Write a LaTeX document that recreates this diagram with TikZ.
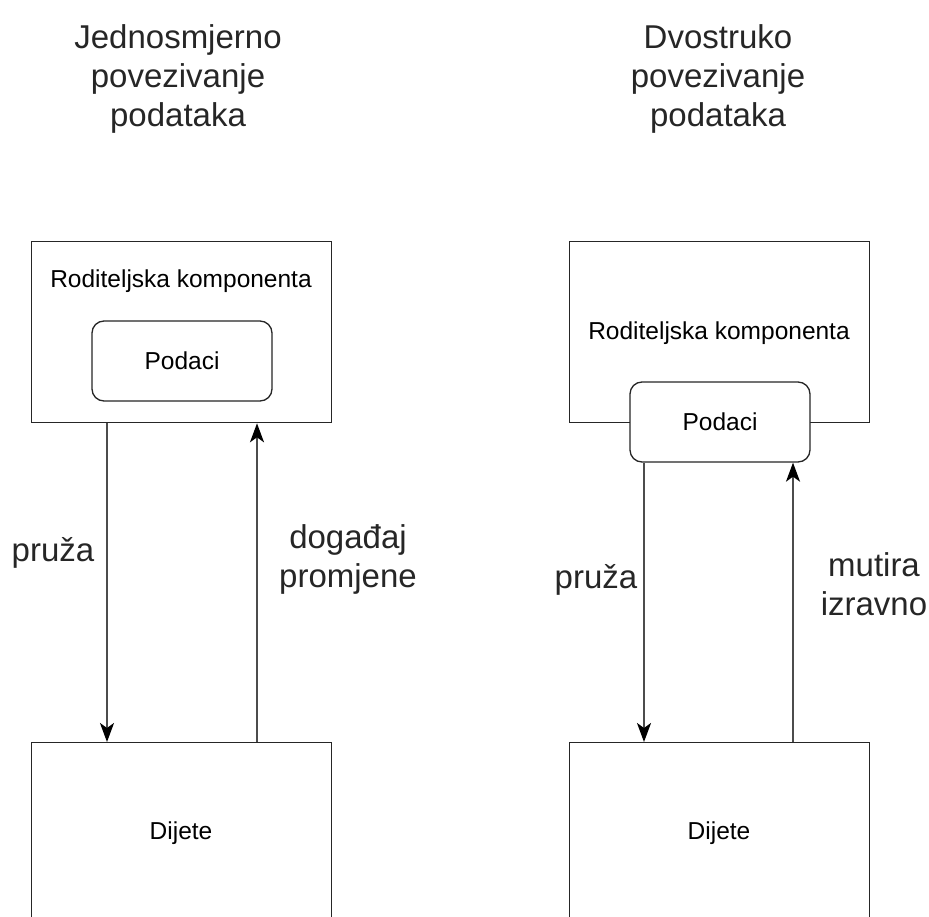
\documentclass[tikz,border=0pt]{standalone}
\usepackage{fontspec}
\setmainfont{Liberation Sans}
\usetikzlibrary{arrows.meta}
\begin{document}
\begin{tikzpicture}[x=1pt,y=-1pt,
  box/.style={draw=black!85, line width=1.3pt, minimum width=300pt, minimum height=181pt, anchor=north west, inner sep=0pt},
  databox/.style={draw=black!85, line width=1.3pt, rounded corners=12pt, fill=white, minimum width=180pt, minimum height=80pt, inner sep=0pt, font=\fontsize{24.5}{28}\selectfont},
  small/.style={font=\fontsize{24.5}{28}\selectfont, inner sep=0pt},
  big/.style={font=\fontsize{33}{39}\selectfont, align=center, inner sep=0pt, text=black!85},
  tip/.tip={Stealth[length=19pt, width=14pt, inset=5pt, fill=black, color=black]},
  flow/.style={draw=black!70, line width=1.8pt, -tip}]
\useasboundingbox (0,0) rectangle (929,917);
\clip (0,0) rectangle (929,917);

% titles
\node[big] (t1) at (178,79) {Jednosmjerno\\povezivanje\\podataka};
\node[big] (t2) at (718,79) {Dvostruko\\povezivanje\\podataka};

% one-way binding
\node[box] (p1) at (31,241) {};
\node[small] (p1t) at (181,281) {Roditeljska komponenta};
\node[databox] (d1) at (182,361) {Podaci};
\node[box] (c1) at (31,742) {};
\node[small] (c1t) at (181,833) {Dijete};
\draw[flow] (p1.south -| 107,0) -- (c1.north -| 107,0);
\draw[flow] (c1.north -| 257,0) -- (p1.south -| 257,0);
\node[big] (l1) at (53,553) {pruža};
\node[big] (l2) at (348,559) {događaj\\promjene};

% two-way binding
\node[box] (p2) at (569,241) {};
\node[small] (p2t) at (719,333) {Roditeljska komponenta};
\node[databox] (d2) at (720,422) {Podaci};
\node[box] (c2) at (569,742) {};
\node[small] (c2t) at (719,833) {Dijete};
\draw[flow] (d2.south -| 644,0) -- (c2.north -| 644,0);
\draw[flow] (c2.north -| 793,0) -- (d2.south -| 793,0);
\node[big] (l3) at (596,580) {pruža};
\node[big] (l4) at (874,584) {mutira\\izravno};
\end{tikzpicture}
\end{document}
